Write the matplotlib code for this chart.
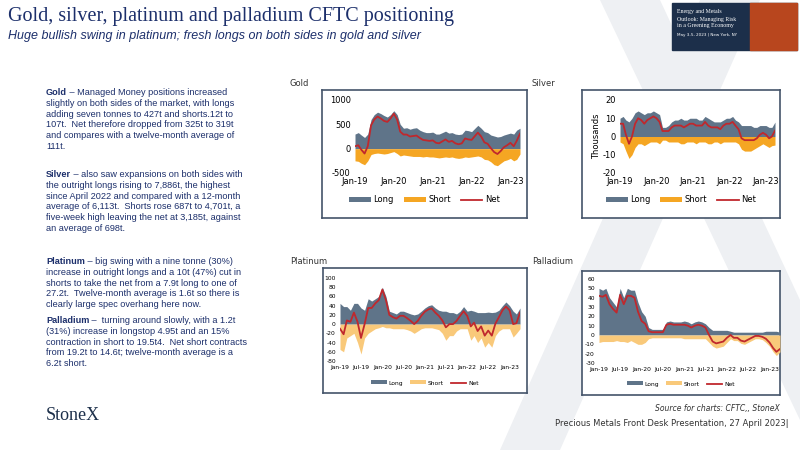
import matplotlib
matplotlib.use("Agg")
import matplotlib.pyplot as plt
import matplotlib.dates as mdates
import pandas as pd
import numpy as np
from matplotlib.patches import Rectangle, Polygon

plt.rcParams["axes.unicode_minus"] = False

gold_long = [300,330,280,230,300,600,700,750,720,680,650,700,780,700,500,420,430,400,420,430,380,350,330,330,340,300,300,330,360,320,330,300,290,300,380,370,350,420,480,420,350,330,280,260,240,250,280,300,320,300,380,420]
gold_short = [-250,-260,-300,-330,-250,-120,-100,-90,-100,-110,-100,-80,-60,-100,-150,-130,-140,-150,-160,-160,-160,-170,-160,-170,-170,-180,-190,-180,-170,-180,-170,-190,-200,-190,-170,-180,-170,-160,-150,-170,-220,-230,-270,-330,-350,-300,-250,-230,-200,-250,-220,-110]
silver_long = [10,11,9,8,10,13,14,13,12,13,13,14,13,12,5,5,6,8,9,9,10,9,9,10,10,10,9,9,11,10,9,8,8,8,9,10,10,11,9,8,6,6,6,6,5,5,6,6,6,5,5,7.9]
silver_short = [-3,-4,-8,-12,-10,-6,-4,-4,-5,-4,-3,-3,-3,-4,-2,-2,-3,-3,-3,-3,-4,-4,-3,-3,-3,-4,-3,-3,-3,-4,-4,-3,-3,-4,-3,-3,-3,-3,-3,-4,-7,-8,-8,-8,-7,-6,-5,-4,-5,-6,-5,-4.7]
plat_long = [45,38,38,30,45,45,35,30,55,50,55,60,80,60,28,25,22,28,28,25,22,20,22,28,35,40,42,35,30,28,28,25,25,22,28,38,28,30,28,25,25,25,26,25,26,30,40,48,40,28,22,35]
plat_short = [-55,-60,-30,-25,-20,-40,-65,-30,-20,-15,-10,-8,-5,-8,-8,-10,-10,-10,-10,-12,-15,-20,-15,-10,-8,-8,-8,-10,-12,-20,-35,-25,-25,-15,-10,-10,-10,-35,-25,-40,-30,-50,-40,-50,-25,-15,-10,-10,-10,-28,-20,-10]
pall_long = [50,48,50,40,35,30,50,40,50,48,48,35,25,20,8,6,6,6,6,14,15,14,14,14,15,14,12,14,15,14,12,8,5,5,5,5,5,4,3,3,3,3,3,3,3,3,3,4,4,4,4,3]
pall_short = [-8,-7,-7,-7,-7,-6,-7,-7,-8,-6,-8,-10,-10,-8,-4,-3,-3,-3,-3,-3,-3,-3,-3,-3,-4,-4,-4,-4,-4,-4,-4,-8,-12,-14,-13,-12,-8,-4,-6,-6,-9,-10,-8,-6,-4,-4,-5,-8,-12,-18,-22,-18]

dates = pd.date_range("2019-01-01", periods=52, freq="MS")
LONG = "#5f7489"; SHORT_G = "#f5a623"; SHORT_P = "#f9c97a"; NET = "#c0282d"

fig = plt.figure(figsize=(8, 4.5), dpi=100)
W, H = 800, 450
def fx(x): return x / W
def fy(y): return 1 - y / H

bg = fig.add_axes([0, 0, 1, 1], zorder=-5); bg.set_xlim(0, W); bg.set_ylim(H, 0); bg.axis("off")
bg.add_patch(Polygon([[700, 0], [760, 0], [560, 450], [500, 450]], color="#eef0f3", lw=0))
bg.add_patch(Polygon([[600, 0], [660, 0], [800, 300], [800, 420]], color="#eef0f3", lw=0))
bg.add_patch(Rectangle((672, 3), 125, 47, color="#1c2f4a"))
bg.add_patch(Rectangle((750, 3), 47, 47, color="#b8461e"))
for i, t in enumerate(["Energy and Metals", "Outlook: Managing Risk", "in a Greening Economy"]):
    bg.text(677, 12 + i * 7, t, color="white", fontsize=4.2, family="Liberation Serif", va="center")
bg.text(677, 35, "May 3-5, 2023 | New York, NY", color="white", fontsize=3, va="center")

fig.text(fx(8), fy(16), "Gold, silver, platinum and palladium CFTC positioning", fontsize=14.5,
         family="Liberation Serif", color="#1c2f6b", va="center")
fig.text(fx(8), fy(36), "Huge bullish swing in platinum; fresh longs on both sides in gold and silver",
         fontsize=9, style="italic", color="#1c2f6b", family="Liberation Sans", va="center")

paras = [
    (88, "Gold", " – Managed Money positions increased\nslightly on both sides of the market, with longs\nadding seven tonnes to 427t and shorts.12t to\n107t.  Net therefore dropped from 325t to 319t\nand compares with a twelve-month average of\n111t."),
    (170, "Silver", " – also saw expansions on both sides with\nthe outright longs rising to 7,886t, the highest\nsince April 2022 and compared with a 12-month\naverage of 6,113t.  Shorts rose 687t to 4,701t, a\nfive-week high leaving the net at 3,185t, against\nan average of 698t."),
    (257, "Platinum", " – big swing with a nine tonne (30%)\nincrease in outright longs and a 10t (47%) cut in\nshorts to take the net from a 7.9t long to one of\n27.2t.  Twelve-month average is 1.6t so there is\nclearly large spec overhang here now."),
    (316, "Palladium", " –  turning around slowly, with a 1.2t\n(31%) increase in longstop 4.95t and an 15%\ncontraction in short to 19.5t4.  Net short contracts\nfrom 19.2t to 14.6t; twelve-month average is a\n6.2t short."),
]
rend = fig.canvas.get_renderer()
for y, b, t in paras:
    lines = t.split("\n")
    for i, ln in enumerate(lines):
        yy = y + i * 10.8
        if i == 0:
            tb = fig.text(fx(46), fy(yy), b, fontsize=6.6, weight="bold", color="#1c2f6b", va="top", family="Liberation Sans")
            wpx = tb.get_window_extent(rend).width
            fig.text(fx(46 + wpx), fy(yy), ln, fontsize=6.6, color="#1c2f6b", va="top", family="Liberation Sans")
        else:
            fig.text(fx(46), fy(yy), ln, fontsize=6.6, color="#1c2f6b", va="top", family="Liberation Sans")

fig.text(fx(46), fy(416), "StoneX", fontsize=13, family="Liberation Serif", color="#1c2f4a", va="center")
fig.text(fx(780), fy(408), "Source for charts: CFTC,, StoneX", fontsize=5.5, style="italic", color="#333", ha="right", va="center")
fig.text(fx(789), fy(423), "Precious Metals Front Desk Presentation, 27 April 2023|", fontsize=6, color="#333", ha="right", va="center")

def chart(frame, plot, title, tpos, longv, shortv, shortc, ylim, yticks, xt, xfmt, fs, legy, ylabel=None):
    fr = fig.add_axes([fx(frame[0]), fy(frame[3]), fx(frame[2] - frame[0]), (frame[3] - frame[1]) / H], zorder=0)
    fr.set_xticks([]); fr.set_yticks([])
    for s in fr.spines.values(): s.set_color("#44546a"); s.set_linewidth(1.2)
    fig.text(fx(tpos[0]), fy(tpos[1]), title, fontsize=6, color="#333", va="center")
    ax = fig.add_axes([fx(plot[0]), fy(plot[3]), fx(plot[2] - plot[0]), (plot[3] - plot[1]) / H], zorder=1)
    ax.patch.set_alpha(0)
    net = np.array(longv) + np.array(shortv)
    ax.fill_between(dates, 0, longv, color=LONG, lw=0, label="Long")
    ax.fill_between(dates, 0, shortv, color=shortc, lw=0, label="Short")
    ax.plot(dates, net, color=NET, lw=1.3, label="Net")
    ax.set_ylim(*ylim); ax.set_yticks(yticks)
    ax.set_xlim(dates[0], dates[-1])
    ax.set_xticks(pd.to_datetime(xt))
    ax.xaxis.set_major_formatter(mdates.DateFormatter(xfmt))
    ax.tick_params(labelsize=fs, length=0, pad=3)
    for s in ax.spines.values(): s.set_visible(False)
    if ylabel: ax.set_ylabel(ylabel, fontsize=fs, labelpad=1)
    cx = (frame[0] + frame[2]) / 2
    leg = ax.legend(loc="center", bbox_to_anchor=(fx(cx), fy(legy)), bbox_transform=fig.transFigure, ncol=3,
                    frameon=False, fontsize=fs, handlelength=2.6, handleheight=0.6, columnspacing=1.2, handletextpad=0.3)

yrs = ["2019-01-01", "2020-01-01", "2021-01-01", "2022-01-01", "2023-01-01"]
half = pd.date_range("2019-01-01", "2023-01-01", freq="6MS")
chart((322, 90, 527, 218), (355, 100, 520, 173), "Gold", (290, 84), gold_long, gold_short, SHORT_G,
      (-500, 1000), [-500, 0, 500, 1000], yrs, "%b-%y", 6, 200)
chart((582, 90, 780, 218), (620, 100, 775, 173), "Silver", (532, 84), silver_long, silver_short, SHORT_G,
      (-20, 20), [-20, -10, 0, 10, 20], yrs, "%b-%y", 6, 200, "Thousands")
chart((323, 268, 527, 393), (340, 278, 520, 361), "Platinum", (290, 262), plat_long, plat_short, SHORT_P,
      (-80, 100), list(range(-80, 101, 20)), half, "%b-%y", 4.3, 383)
chart((582, 271, 780, 395), (599, 279, 780, 363), "Palladium", (532, 262), pall_long, pall_short, SHORT_P,
      (-30, 60), list(range(-30, 61, 10)), half, "%b-%y", 4.3, 384)

fig.savefig("out.png", dpi=100)
